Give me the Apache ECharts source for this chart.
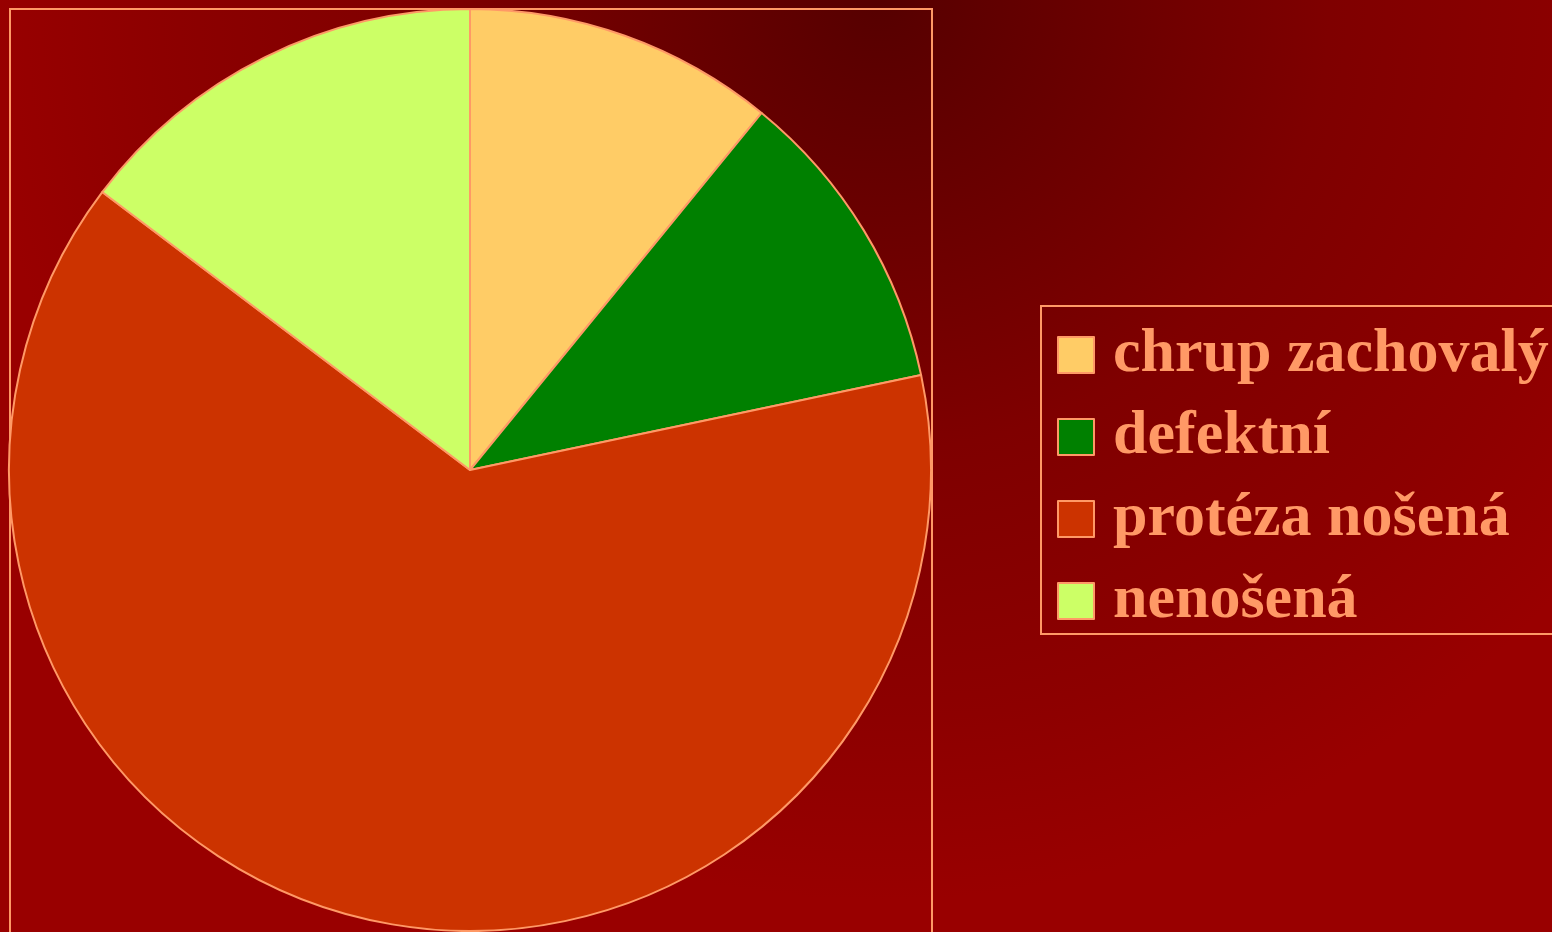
<!DOCTYPE html>
<html>
<head>
<meta charset="utf-8">
<script src="https://cdn.jsdelivr.net/npm/echarts@6/dist/echarts.min.js"></script>
<style>
html,body{margin:0;padding:0;overflow:hidden;}
#chart{width:1552px;height:932px;}
</style>
</head>
<body>
<div id="chart"></div>
<script>
const categories = ['chrup zachovalý', 'defektní', 'protéza nošená', 'nenošená'];
const values = [10.9, 10.8, 63.6, 14.7];
const colors = ['#FFCC66', '#008000', '#CC3300', '#CCFF66'];

const chart = echarts.init(document.getElementById('chart'));
const salmon = '#FF9966';
chart.setOption({
  animation: false,
  backgroundColor: new echarts.graphic.RadialGradient(880, 0, 900, [
    {offset: 0, color: '#560000'},
    {offset: 0.5, color: '#7F0000'},
    {offset: 0.8, color: '#8D0000'},
    {offset: 1, color: '#990000'}
  ], true),
  graphic: [{
    type: 'rect',
    shape: {x: 10, y: 9, width: 922, height: 940},
    style: {fill: 'none', stroke: salmon, lineWidth: 2},
    silent: true,
    z: -1
  }],
  legend: {
    orient: 'vertical',
    left: 1041,
    top: 306,
    padding: [18, 40, 2, 16],
    itemGap: 20,
    itemWidth: 36,
    itemHeight: 36,
    icon: 'rect',
    borderColor: salmon,
    borderWidth: 2,
    selectedMode: false,
    itemStyle: {borderColor: salmon, borderWidth: 2},
    textStyle: {
      color: salmon,
      fontFamily: 'Liberation Serif',
      fontWeight: 'bold',
      fontSize: 62,
      lineHeight: 62,
      padding: [0, 0, 0, 14]
    },
    data: categories
  },
  series: [{
    type: 'pie',
    center: [470, 470],
    radius: 461,
    startAngle: 90,
    clockwise: true,
    label: {show: false},
    labelLine: {show: false},
    emphasis: {disabled: true},
    itemStyle: {borderColor: salmon, borderWidth: 2},
    data: categories.map((c, i) => ({name: c, value: values[i], itemStyle: {color: colors[i]}}))
  }]
});
</script>
</body>
</html>
